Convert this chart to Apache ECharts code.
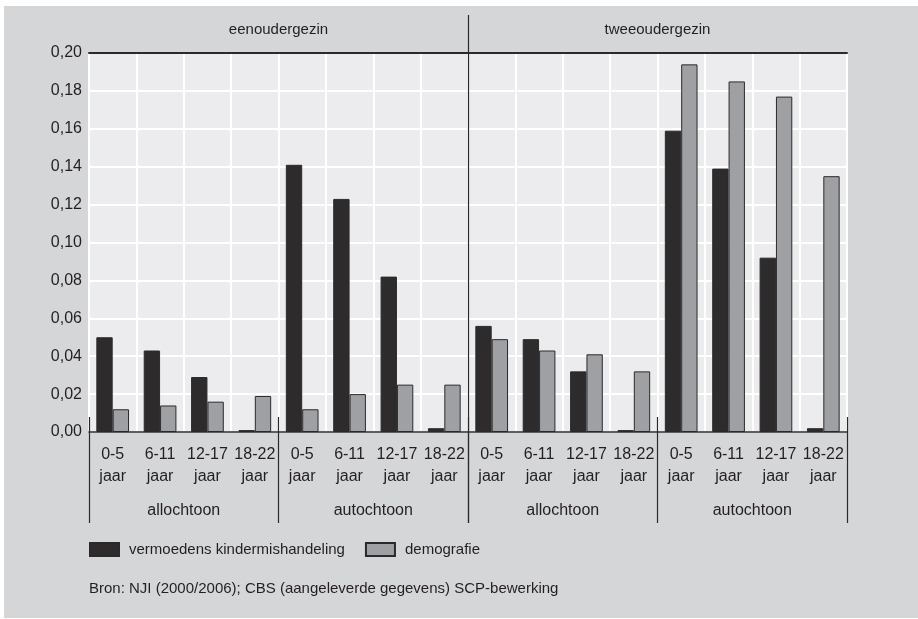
<!DOCTYPE html>
<html><head><meta charset="utf-8">
<script src="https://cdn.jsdelivr.net/npm/echarts@6/dist/echarts.min.js"></script>
<style>html,body{margin:0;padding:0;background:#fff}#c{width:918px;height:619px}</style>
</head><body><div id="c"></div>
<script>
const familyLabels = ['eenoudergezin', 'tweeoudergezin'];
const groupLabels = ['allochtoon', 'autochtoon', 'allochtoon', 'autochtoon'];
const ageLabels = ['0-5\njaar', '6-11\njaar', '12-17\njaar', '18-22\njaar'];
const seriesNames = ['vermoedens kindermishandeling', 'demografie'];
const vermoedens = [0.050, 0.043, 0.029, 0.001, 0.141, 0.123, 0.082, 0.002,
                    0.056, 0.049, 0.032, 0.001, 0.159, 0.139, 0.092, 0.002];
const demografie = [0.012, 0.014, 0.016, 0.019, 0.012, 0.020, 0.025, 0.025,
                    0.049, 0.043, 0.041, 0.032, 0.194, 0.185, 0.177, 0.135];
const yMin = 0, yMax = 0.20, yStep = 0.02;
const sourceText = 'Bron: NJI (2000/2006); CBS (aangeleverde gegevens) SCP-bewerking';

const categories = [];
groupLabels.forEach((g, gi) => ageLabels.forEach((a, ai) => categories.push(gi + '|' + ai)));

const FONT = '"Liberation Sans", Arial, sans-serif';
const TXT = '#231f20';
const DARK = '#2b2a2b';

const chart = echarts.init(document.getElementById('c'), null, {renderer: 'canvas'});
chart.setOption({
  backgroundColor: '#ffffff',
  animation: false,
  textStyle: {fontFamily: FONT, color: TXT},
  graphic: [{type: 'rect', left: 4, top: 6, z: -100, shape: {width: 914, height: 612}, style: {fill: '#d5d6d8'}}],
  title: {text: sourceText, left: 89, top: 581, padding: 0,
    textStyle: {fontFamily: FONT, fontSize: 15, fontWeight: 'normal', color: TXT}},
  legend: {left: 89, top: 542, padding: 0, itemWidth: 29, itemHeight: 13, itemGap: 20,
    icon: 'rect', data: seriesNames,
    textStyle: {fontFamily: FONT, fontSize: 15, color: TXT, padding: [0, 0, 0, 5]}},
  grid: [
    {left: 89, top: 53, width: 758, height: 379, show: true, backgroundColor: '#ececee', borderWidth: 0},
    {left: 89, top: 417, width: 758, height: 106},
    {left: 89, top: 15, width: 758, height: 508}
  ],
  xAxis: [
    {gridIndex: 0, type: 'category', data: categories, position: 'bottom', boundaryGap: true, z: 5,
      axisLine: {lineStyle: {color: DARK, width: 1.5}},
      axisTick: {alignWithLabel: true, interval: 0, length: 8, lineStyle: {color: DARK, width: 1.2}},
      axisLabel: {interval: 0, fontFamily: FONT, fontSize: 16, lineHeight: 22, margin: 12, color: TXT,
        formatter: (v, i) => ageLabels[i % 4]},
      splitLine: {show: true, interval: 0, lineStyle: {color: '#ffffff', width: 2}}},
    {gridIndex: 0, type: 'category', data: categories, position: 'top', z: 5,
      axisLine: {lineStyle: {color: DARK, width: 2}}, axisTick: {show: false}, axisLabel: {show: false},
      splitLine: {show: false}},
    {gridIndex: 1, type: 'category', data: groupLabels.map((g, i) => i + g), position: 'top', z: 10,
      axisLine: {show: false}, axisTick: {show: false},
      axisLabel: {inside: true, interval: 0, margin: 94, verticalAlign: 'middle', fontFamily: FONT,
        fontSize: 16, color: TXT, formatter: (v, i) => groupLabels[i]},
      splitLine: {show: false}},
    {gridIndex: 1, type: 'value', min: 0, max: groupLabels.length, interval: 1, position: 'bottom', z: 10,
      axisLine: {show: false}, axisTick: {show: false}, axisLabel: {show: false},
      splitLine: {show: true, lineStyle: {color: DARK, width: 1.2}}},
    {gridIndex: 2, type: 'category', data: familyLabels, position: 'top', z: 10,
      axisLine: {show: false}, axisTick: {show: false},
      axisLabel: {inside: true, interval: 0, margin: 15, verticalAlign: 'middle', fontFamily: FONT,
        fontSize: 15, color: TXT},
      splitLine: {show: false}},
    {gridIndex: 2, type: 'value', min: 0, max: familyLabels.length, interval: 1, position: 'bottom', z: 10,
      axisLine: {show: false}, axisTick: {show: false}, axisLabel: {show: false},
      splitLine: {show: true, lineStyle: {color: ['rgba(0,0,0,0)', DARK, 'rgba(0,0,0,0)'], width: 1.2}}}
  ],
  yAxis: [
    {gridIndex: 0, type: 'value', min: yMin, max: yMax, interval: yStep,
      axisLine: {show: false}, axisTick: {show: false},
      axisLabel: {fontFamily: FONT, fontSize: 16, margin: 7, color: TXT,
        formatter: v => v.toFixed(2).replace('.', ',')},
      splitLine: {lineStyle: {color: '#ffffff', width: 2}}},
    {gridIndex: 1, type: 'value', show: false},
    {gridIndex: 2, type: 'value', show: false}
  ],
  series: [
    {name: seriesNames[0], type: 'bar', xAxisIndex: 0, yAxisIndex: 0, data: vermoedens,
      barGap: '0%', barCategoryGap: '31%',
      itemStyle: {color: '#2d2b2c', borderColor: DARK, borderWidth: 1}},
    {name: seriesNames[1], type: 'bar', xAxisIndex: 0, yAxisIndex: 0, data: demografie,
      barGap: '0%', barCategoryGap: '31%',
      itemStyle: {color: '#9fa0a4', borderColor: DARK, borderWidth: 1}}
  ]
});
</script></body></html>
